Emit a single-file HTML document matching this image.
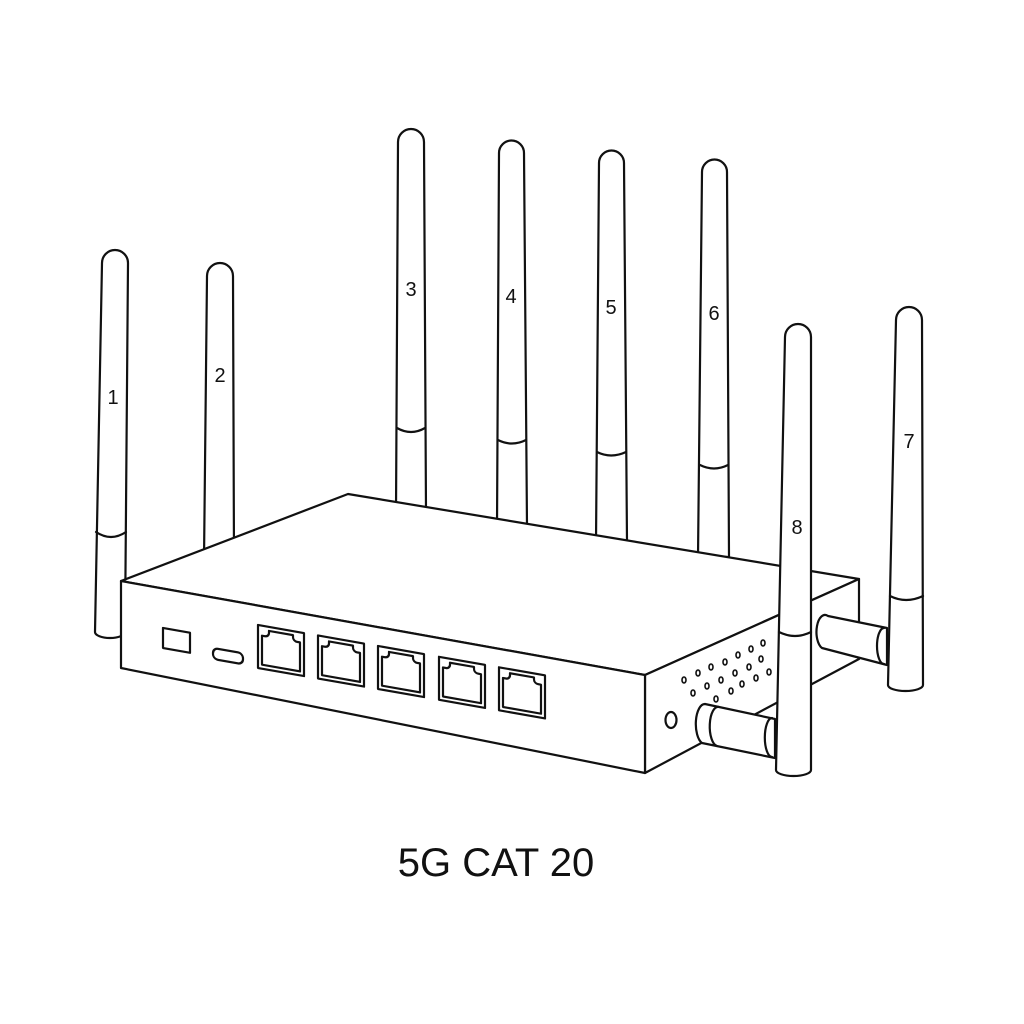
<!DOCTYPE html>
<html><head><meta charset="utf-8"><style>
html,body{margin:0;padding:0;background:#fff;}
svg{display:block}
text{font-family:"Liberation Sans",sans-serif;fill:#111}
</style></head><body>
<svg width="1024" height="1024" viewBox="0 0 1024 1024" xmlns="http://www.w3.org/2000/svg">
<g fill="#fff" stroke="#111" stroke-width="2.2" stroke-linejoin="round" stroke-linecap="round">
<!-- back antennas -->
<path d="M95,632 L102,263 A13,13 0 0 1 128,263 L125,632 A15,6 0 0 1 95,632 Z"/>
<path d="M96,532 Q111,542 126,532" fill="none"/>
<path d="M204,560 L207,276 A13,13 0 0 1 233,276 L234,560 Z"/>
<path d="M396,512 L398,142 A13,13 0 0 1 424,142 L426,512 Z"/>
<path d="M397,428 Q411,436 425,428" fill="none"/>
<path d="M497,527 L499,153 A12.5,12.5 0 0 1 524,153 L527,527 Z"/>
<path d="M498,440 Q512,447 526,440" fill="none"/>
<path d="M596,542 L599,163 A12.5,12.5 0 0 1 624,163 L627,542 Z"/>
<path d="M597,452 Q611,459 626,452" fill="none"/>
<path d="M698,557 L702,172 A12.5,12.5 0 0 1 727,172 L729,557 Z"/>
<path d="M700,465 Q714,472 728,465" fill="none"/>
<!-- box -->
<polygon points="121,581 348,494 859,579 645,675"/>
<polygon points="645,675 859,579 859,659 645,773"/>
<polygon points="121,581 645,675 645,773 121,668"/>
<!-- front ports -->
<rect x="0" y="0" width="27" height="20" transform="matrix(1,0.1756,0,1,163,628)"/>
<rect x="0" y="0" width="30" height="11" rx="5" transform="matrix(1,0.1756,0,1,213,648)"/>
<g transform="matrix(1,0.1756,0,1,258,625)"><rect x="0" y="0" width="46" height="43"/><path d="M4,39 V10 H7 A4,4 0 0 0 11,6 V4 H35 V6 A4,4 0 0 0 39,10 H42 V39 Z" fill="none"/></g>
<g transform="matrix(1,0.1756,0,1,318,635.5)"><rect x="0" y="0" width="46" height="43"/><path d="M4,39 V10 H7 A4,4 0 0 0 11,6 V4 H35 V6 A4,4 0 0 0 39,10 H42 V39 Z" fill="none"/></g>
<g transform="matrix(1,0.1756,0,1,378,646)"><rect x="0" y="0" width="46" height="43"/><path d="M4,39 V10 H7 A4,4 0 0 0 11,6 V4 H35 V6 A4,4 0 0 0 39,10 H42 V39 Z" fill="none"/></g>
<g transform="matrix(1,0.1756,0,1,439,656.8)"><rect x="0" y="0" width="46" height="43"/><path d="M4,39 V10 H7 A4,4 0 0 0 11,6 V4 H35 V6 A4,4 0 0 0 39,10 H42 V39 Z" fill="none"/></g>
<g transform="matrix(1,0.1756,0,1,499,667.3)"><rect x="0" y="0" width="46" height="43"/><path d="M4,39 V10 H7 A4,4 0 0 0 11,6 V4 H35 V6 A4,4 0 0 0 39,10 H42 V39 Z" fill="none"/></g>
<!-- side holes -->
<g stroke-width="1.6">
<ellipse cx="684" cy="680" rx="2" ry="3"/><ellipse cx="698" cy="673" rx="2" ry="3"/><ellipse cx="711" cy="667" rx="2" ry="3"/><ellipse cx="725" cy="662" rx="2" ry="3"/><ellipse cx="738" cy="655" rx="2" ry="3"/><ellipse cx="751" cy="649" rx="2" ry="3"/><ellipse cx="763" cy="643" rx="2" ry="3"/>
<ellipse cx="693" cy="693" rx="2" ry="3"/><ellipse cx="707" cy="686" rx="2" ry="3"/><ellipse cx="721" cy="680" rx="2" ry="3"/><ellipse cx="735" cy="673" rx="2" ry="3"/><ellipse cx="749" cy="667" rx="2" ry="3"/><ellipse cx="761" cy="659" rx="2" ry="3"/>
<ellipse cx="716" cy="699" rx="2" ry="3"/><ellipse cx="731" cy="691" rx="2" ry="3"/><ellipse cx="742" cy="684" rx="2" ry="3"/><ellipse cx="756" cy="678" rx="2" ry="3"/><ellipse cx="769" cy="672" rx="2" ry="3"/>
</g>
<ellipse cx="671" cy="720" rx="5.5" ry="8"/>
<!-- right connector -->
<path d="M828,616 L887,628 L887,665 L822,648 A8,16 0 0 1 828,616 Z"/>
<path d="M884,628 A7,18 0 0 0 884,664" fill="none"/>
<!-- antenna 7 -->
<path d="M888,685 L896,320 A13,13 0 0 1 922,320 L923,685 A17.5,6 0 0 1 888,685 Z"/>
<path d="M890,596 Q906,604 923,596" fill="none"/>
<!-- left connector -->
<path d="M705,704 L775,719 L775,758 L702,743 A9,20 0 0 1 705,704 Z"/>
<path d="M719,707 A8,19 0 0 0 717,746" fill="none"/>
<path d="M772,718 A7,19 0 0 0 772,757" fill="none"/>
<!-- antenna 8 -->
<path d="M776,770 L785,337 A13,13 0 0 1 811,337 L811,770 A17.5,6 0 0 1 776,770 Z"/>
<path d="M779,632 Q795,640 811,632" fill="none"/>
</g>
<g font-size="20" text-anchor="middle">
<text x="113" y="404">1</text>
<text x="220" y="382">2</text>
<text x="411" y="296">3</text>
<text x="511" y="303">4</text>
<text x="611" y="314">5</text>
<text x="714" y="320">6</text>
<text x="909" y="448">7</text>
<text x="797" y="534">8</text>
</g>
<text x="496" y="876" font-size="40" text-anchor="middle">5G CAT 20</text>
</svg>
</body></html>
